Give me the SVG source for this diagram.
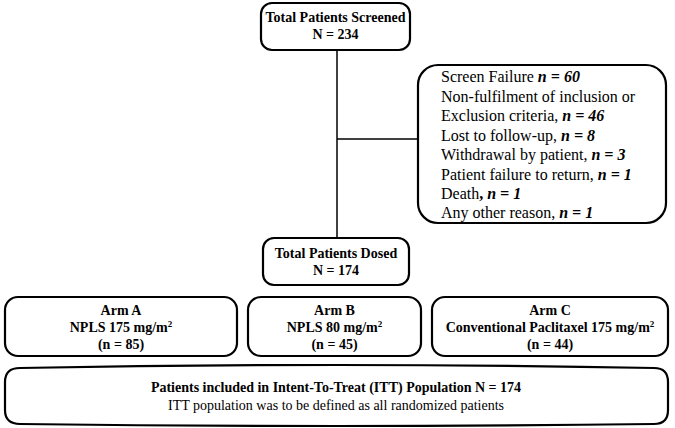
<svg xmlns="http://www.w3.org/2000/svg" width="675" height="428" viewBox="0 0 675 428">
<style>
.box{fill:#fff;stroke:#000;stroke-width:2.2}
.b{font-family:"Liberation Serif","Times New Roman",serif;font-weight:bold;font-size:14px;text-anchor:middle;fill:#000}
.r{font-family:"Liberation Serif","Times New Roman",serif;font-size:16px;fill:#000}
.t{font-family:"Liberation Serif","Times New Roman",serif;font-size:14px;text-anchor:middle;fill:#000}
.n{font-weight:bold;font-style:italic}
.c{stroke:#000;stroke-width:1.5;fill:none}
</style>
<rect width="675" height="428" fill="#fff"/>
<g id="connectors">
<line class="c" x1="337" y1="50" x2="337" y2="238"/>
<line class="c" x1="337" y1="139" x2="418" y2="139"/>
</g>
<g id="screened">
<rect class="box" x="261" y="3" width="149" height="47" rx="11"/>
<text class="b" x="335.5" y="22">Total Patients Screened</text>
<text class="b" x="335.5" y="39">N = 234</text>
</g>
<g id="excluded">
<rect class="box" x="418" y="65" width="248" height="158" rx="20"/>
<text class="r" x="441" y="82">Screen Failure <tspan class="n">n = 60</tspan></text>
<text class="r" x="441" y="102">Non-fulfilment of inclusion or</text>
<text class="r" x="441" y="121">Exclusion criteria, <tspan class="n">n = 46</tspan></text>
<text class="r" x="441" y="141">Lost to follow-up, <tspan class="n">n = 8</tspan></text>
<text class="r" x="441" y="160">Withdrawal by patient, <tspan class="n">n = 3</tspan></text>
<text class="r" x="441" y="180">Patient failure to return, <tspan class="n">n = 1</tspan></text>
<text class="r" x="441" y="199">Death<tspan font-weight="bold">,</tspan> <tspan class="n">n = 1</tspan></text>
<text class="r" x="441" y="218">Any other reason, <tspan class="n">n = 1</tspan></text>
</g>
<g id="dosed">
<rect class="box" x="263" y="238" width="146" height="47" rx="11"/>
<text class="b" x="336" y="258">Total Patients Dosed</text>
<text class="b" x="336" y="275">N = 174</text>
</g>
<g id="armA">
<rect class="box" x="5" y="297" width="232" height="59" rx="13"/>
<text class="b" x="121" y="315">Arm A</text>
<text class="b" x="121" y="332">NPLS 175 mg/m<tspan font-size="9" dy="-5">2</tspan></text>
<text class="b" x="121" y="349">(n = 85)</text>
</g>
<g id="armB">
<rect class="box" x="248" y="297" width="173" height="59" rx="13"/>
<text class="b" x="334.5" y="315">Arm B</text>
<text class="b" x="334.5" y="332">NPLS 80 mg/m<tspan font-size="9" dy="-5">2</tspan></text>
<text class="b" x="334.5" y="349">(n = 45)</text>
</g>
<g id="armC">
<rect class="box" x="432" y="297" width="236" height="59" rx="13"/>
<text class="b" x="550" y="315">Arm C</text>
<text class="b" x="550" y="332">Conventional Paclitaxel 175 mg/m<tspan font-size="9" dy="-5">2</tspan></text>
<text class="b" x="550" y="349">(n = 44)</text>
</g>
<g id="itt">
<path class="box" d="M20,368 Q337,362 654,368 Q668,368 668,382 L668,410 Q668,424 654,424 Q337,428 20,424 Q5,424 5,410 L5,382 Q5,368 20,368 Z"/>
<text class="b" x="336" y="392">Patients included in Intent-To-Treat (ITT) Population N = 174</text>
<text class="t" x="336" y="410">ITT population was to be defined as all randomized patients</text>
</g>
</svg>
